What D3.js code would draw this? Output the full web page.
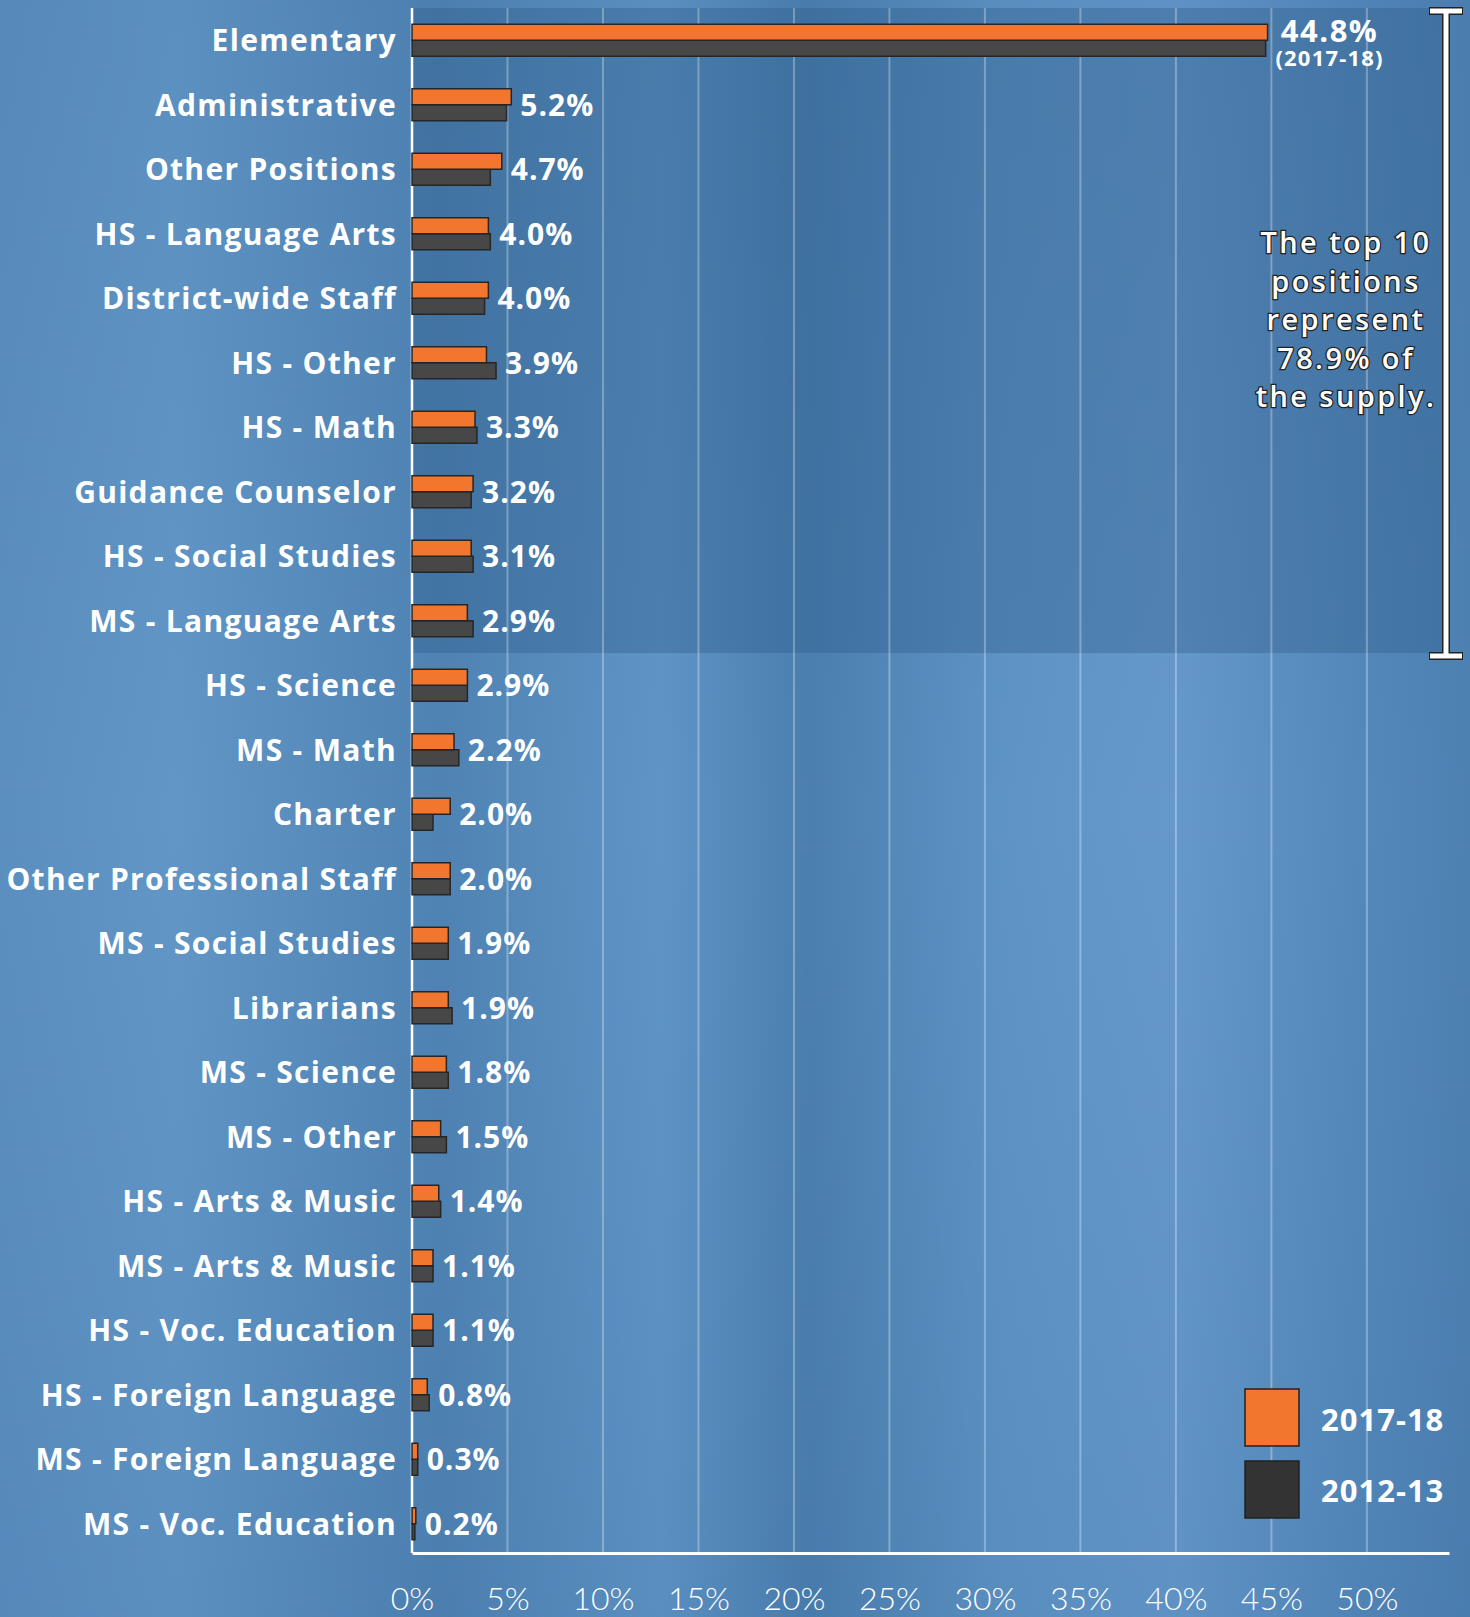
<!DOCTYPE html>
<html lang="en">
<head>
<meta charset="utf-8">
<title>Top positions - share of supply</title>
<script src="https://d3js.org/d3.v7.min.js"></script>
<style>
	body { margin: 0; background: #5a8ec0; }
	svg { display: block; }
	.cat { font-family: "Open Sans", sans-serif; font-weight: 700; fill: #fff; }
	.val { font-family: "Open Sans", sans-serif; font-weight: 700; fill: #fff; }
	.tick text { font-family: Lato, sans-serif; font-weight: 300; fill: #fff; }
</style>
</head>
<body>
<script type="text/javascript">

var categories = ["Elementary", "Administrative", "Other Positions", "HS - Language Arts",
	"District-wide Staff", "HS - Other", "HS - Math", "Guidance Counselor",
	"HS - Social Studies", "MS - Language Arts", "HS - Science", "MS - Math",
	"Charter", "Other Professional Staff", "MS - Social Studies", "Librarians",
	"MS - Science", "MS - Other", "HS - Arts & Music", "MS - Arts & Music",
	"HS - Voc. Education", "HS - Foreign Language", "MS - Foreign Language", "MS - Voc. Education"];

var share1718 = [44.8, 5.2, 4.7, 4.0, 4.0, 3.9, 3.3, 3.2, 3.1, 2.9, 2.9, 2.2,
	2.0, 2.0, 1.9, 1.9, 1.8, 1.5, 1.4, 1.1, 1.1, 0.8, 0.3, 0.2];

var share1213 = [44.7, 4.95, 4.1, 4.1, 3.8, 4.4, 3.4, 3.1, 3.2, 3.2, 2.9, 2.45,
	1.1, 2.0, 1.9, 2.1, 1.9, 1.8, 1.5, 1.1, 1.1, 0.9, 0.3, 0.15];

var xTicks = [0, 5, 10, 15, 20, 25, 30, 35, 40, 45, 50];
var seriesNames = ["2017-18", "2012-13"];
var seriesColors = ["#f2762e", "#474747"];
var noteLines = ["The top 10", "positions", "represent", "78.9% of", "the supply."];

var W = 1470, H = 1617;
var plotTop = 8, plotBottom = 1556;

var svg = d3.select("body").append("svg")
	.attr("width", W)
	.attr("height", H);

var defs = svg.append("defs");

// mottled blue background
var bg = defs.append("linearGradient").attr("id", "bg").attr("x1", 0).attr("x2", 1).attr("y1", 0).attr("y2", 0);
[["0", "#5b8fc0"], ["0.12", "#6196c6"], ["0.3", "#4f83b4"], ["0.45", "#5f95c6"], ["0.55", "#4b7fb0"],
 ["0.68", "#5e94c5"], ["0.8", "#6699cb"], ["0.92", "#5589bb"], ["1", "#4d81b2"]].forEach(function(s) {
	bg.append("stop").attr("offset", s[0]).attr("stop-color", s[1]);
});
var vg = defs.append("linearGradient").attr("id", "vg").attr("x1", 0).attr("x2", 0).attr("y1", 0).attr("y2", 1);
vg.append("stop").attr("offset", 0).attr("stop-color", "#3a6a9a").attr("stop-opacity", 0.15);
vg.append("stop").attr("offset", 0.5).attr("stop-color", "#3a6a9a").attr("stop-opacity", 0);
vg.append("stop").attr("offset", 1).attr("stop-color", "#2e5e90").attr("stop-opacity", 0.12);

svg.append("rect").attr("width", W).attr("height", H).attr("fill", "url(#bg)");
svg.append("rect").attr("width", W).attr("height", H).attr("fill", "url(#vg)");

var x = d3.scaleLinear()
	.domain([0, 54.3])
	.range([412, 1449]);

var y = d3.scaleBand()
	.domain(categories)
	.range([plotTop, plotBottom]);

var bh = 16;

// darker panel behind the top 10
svg.append("rect")
	.attr("x", x(0))
	.attr("y", plotTop)
	.attr("width", 1447 - x(0))
	.attr("height", y(categories[10]) - plotTop)
	.attr("fill", "#2c5a88")
	.attr("opacity", 0.35);

// gridlines
svg.append("g")
	.selectAll("line")
	.data(xTicks.slice(1))
	.enter()
	.append("line")
	.attr("x1", function(d) { return x(d); })
	.attr("x2", function(d) { return x(d); })
	.attr("y1", plotTop)
	.attr("y2", 1553)
	.attr("stroke", "#fff")
	.attr("stroke-opacity", 0.3)
	.attr("stroke-width", 2);

// bottom axis
var xAxis = svg.append("g")
	.attr("transform", "translate(0,1553)")
	.call(d3.axisBottom(x).tickValues(xTicks).tickSize(0).tickPadding(34).tickFormat(function(d) { return d + "%"; }));
xAxis.select(".domain").attr("stroke", "#fff").attr("stroke-width", 3);
xAxis.selectAll(".tick text").attr("font-size", 32);

// vertical axis line
svg.append("line")
	.attr("x1", x(0)).attr("x2", x(0))
	.attr("y1", plotTop).attr("y2", 1553)
	.attr("stroke", "#fff")
	.attr("stroke-width", 2.5);

var rows = categories.map(function(c, i) {
	return { cat: c, a: share1718[i], b: share1213[i] };
});

var mid = function(d) { return y(d.cat) + y.bandwidth() / 2; };

// bars
svg.selectAll(".bar12")
	.data(rows)
	.enter()
	.append("rect")
	.attr("x", x(0))
	.attr("y", function(d) { return mid(d); })
	.attr("width", function(d) { return x(d.b) - x(0); })
	.attr("height", bh)
	.attr("fill", seriesColors[1])
	.attr("stroke", "#262626")
	.attr("stroke-width", 1.5);

svg.selectAll(".bar17")
	.data(rows)
	.enter()
	.append("rect")
	.attr("x", x(0))
	.attr("y", function(d) { return mid(d) - bh; })
	.attr("width", function(d) { return x(d.a) - x(0); })
	.attr("height", bh)
	.attr("fill", seriesColors[0])
	.attr("stroke", "#262626")
	.attr("stroke-width", 1.5);

// category labels
svg.selectAll(".cat")
	.data(rows)
	.enter()
	.append("text")
	.attr("class", "cat")
	.attr("x", 397)
	.attr("y", function(d) { return mid(d); })
	.attr("dy", "0.36em")
	.attr("text-anchor", "end")
	.attr("font-size", 30)
	.attr("letter-spacing", 1.3)
	.text(function(d) { return d.cat; });

// value labels
svg.selectAll(".val")
	.data(rows.slice(1))
	.enter()
	.append("text")
	.attr("class", "val")
	.attr("x", function(d) { return x(Math.max(d.a, d.b)) + 9; })
	.attr("y", function(d) { return mid(d); })
	.attr("dy", "0.36em")
	.attr("font-size", 30)
	.attr("letter-spacing", 1)
	.text(function(d) { return d.a.toFixed(1) + "%"; });

var first = rows[0];
svg.append("text")
	.attr("class", "val")
	.attr("x", x(first.a) + 62)
	.attr("y", mid(first) + 2)
	.attr("text-anchor", "middle")
	.attr("font-size", 31)
	.attr("letter-spacing", 1.5)
	.text(first.a.toFixed(1) + "%");
svg.append("text")
	.attr("class", "val")
	.attr("x", x(first.a) + 62)
	.attr("y", mid(first) + 26)
	.attr("text-anchor", "middle")
	.attr("font-size", 22)
	.attr("letter-spacing", 1.2)
	.text("(" + seriesNames[0] + ")");

// bracket for the top 10
var bx = 1446, bTop = 11, bBot = y(categories[10]) + 3;
var bracket = svg.append("g");
[[bx, bTop, bx, bBot], [1429, bTop, 1463, bTop], [1429, bBot, 1463, bBot]].forEach(function(s) {
	bracket.append("line")
		.attr("x1", s[0]).attr("y1", s[1]).attr("x2", s[2]).attr("y2", s[3])
		.attr("stroke", "#222").attr("stroke-width", 8);
});
[[bx, bTop, bx, bBot], [1430, bTop, 1462, bTop], [1430, bBot, 1462, bBot]].forEach(function(s) {
	bracket.append("line")
		.attr("x1", s[0]).attr("y1", s[1]).attr("x2", s[2]).attr("y2", s[3])
		.attr("stroke", "#fff").attr("stroke-width", 5);
});

// note text
svg.append("g")
	.selectAll("text")
	.data(noteLines)
	.enter()
	.append("text")
	.attr("x", 1346)
	.attr("y", function(d, i) { return 243 + i * 38.5; })
	.attr("dy", "0.36em")
	.attr("text-anchor", "middle")
	.attr("font-family", "'Open Sans', sans-serif")
	.attr("font-weight", 600)
	.attr("font-size", 29)
	.attr("letter-spacing", 2.4)
	.attr("fill", "#fff")
	.attr("stroke", "#222")
	.attr("stroke-width", 2.5)
	.attr("paint-order", "stroke")
	.text(function(d) { return d; });

// legend
var legend = svg.append("g");
seriesNames.forEach(function(name, i) {
	legend.append("rect")
		.attr("x", 1245)
		.attr("y", 1389 + i * 72)
		.attr("width", 54)
		.attr("height", 57)
		.attr("fill", i == 0 ? seriesColors[0] : "#333")
		.attr("stroke", "#222")
		.attr("stroke-width", 1.5);
	legend.append("text")
		.attr("class", "val")
		.attr("x", 1321)
		.attr("y", 1420 + i * 71)
		.attr("dy", "0.36em")
		.attr("font-size", 31)
		.attr("letter-spacing", 1)
		.text(name);
});

</script>
</body>
</html>
